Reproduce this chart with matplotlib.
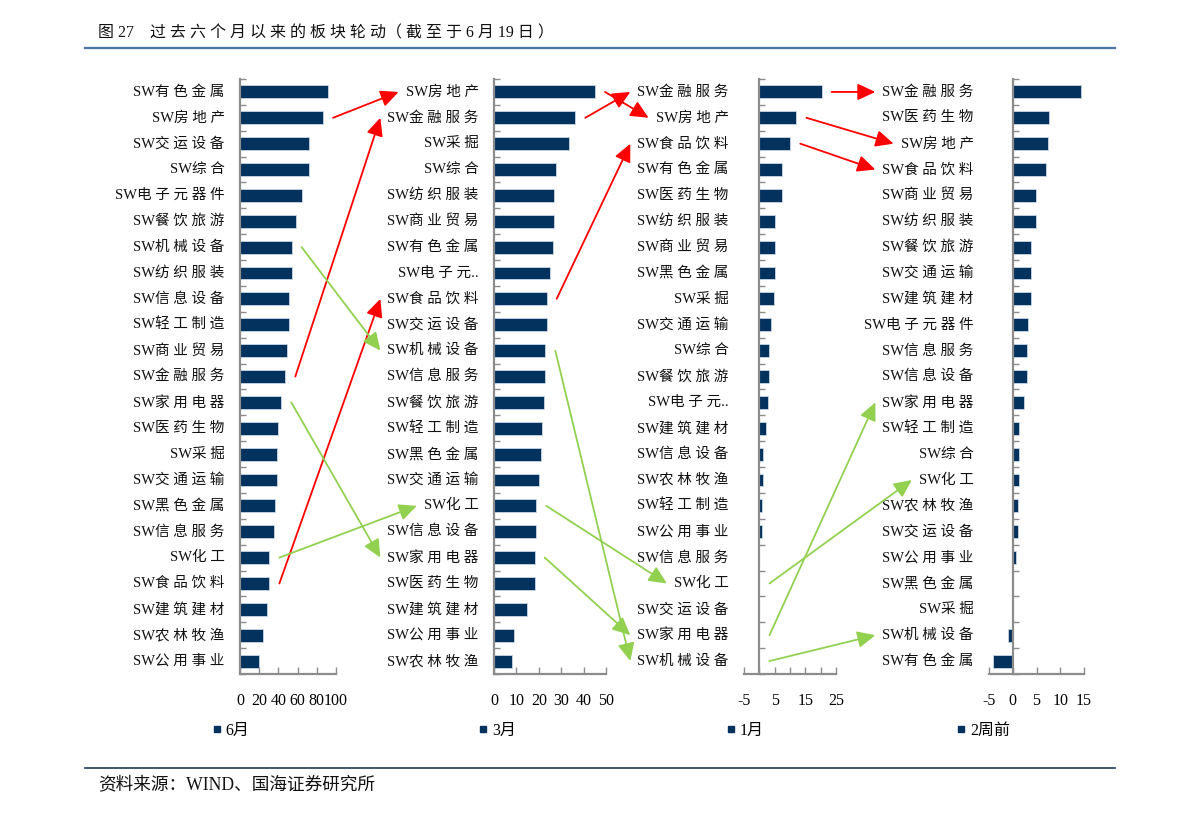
import numpy as np
import matplotlib
matplotlib.use("Agg")
import matplotlib.pyplot as plt
from matplotlib.lines import Line2D
from matplotlib.patches import FancyArrowPatch

plt.rcParams['font.family'] = ['Liberation Serif', 'Noto Sans CJK SC']
plt.rcParams['axes.unicode_minus'] = False

# ---- data ----
cats_6m = ['SW有色金属', 'SW房地产', 'SW交运设备', 'SW综合', 'SW电子元器件', 'SW餐饮旅游',
           'SW机械设备', 'SW纺织服装', 'SW信息设备', 'SW轻工制造', 'SW商业贸易', 'SW金融服务',
           'SW家用电器', 'SW医药生物', 'SW采掘', 'SW交通运输', 'SW黑色金属', 'SW信息服务',
           'SW化工', 'SW食品饮料', 'SW建筑建材', 'SW农林牧渔', 'SW公用事业']
vals_6m = [91.3, 86.5, 72.2, 72.2, 64.6, 58.7, 53.8, 53.8, 50.7, 50.7, 49.0, 47.2,
           43.0, 40.0, 38.2, 38.2, 36.5, 35.1, 30.6, 30.6, 28.5, 24.3, 19.4]

cats_3m = ['SW房地产', 'SW金融服务', 'SW采掘', 'SW综合', 'SW纺织服装', 'SW商业贸易',
           'SW有色金属', 'SW电子元..', 'SW食品饮料', 'SW交运设备', 'SW机械设备', 'SW信息服务',
           'SW餐饮旅游', 'SW轻工制造', 'SW黑色金属', 'SW交通运输', 'SW化工', 'SW信息设备',
           'SW家用电器', 'SW医药生物', 'SW建筑建材', 'SW公用事业', 'SW农林牧渔']
vals_3m = [45.1, 36.3, 33.6, 27.5, 26.9, 26.9, 26.2, 24.9, 23.5, 23.5, 22.9, 22.9,
           22.2, 21.6, 20.8, 20.2, 18.9, 18.9, 18.2, 18.2, 14.9, 8.8, 8.2]

cats_1m = ['SW金融服务', 'SW房地产', 'SW食品饮料', 'SW有色金属', 'SW医药生物', 'SW纺织服装',
           'SW商业贸易', 'SW黑色金属', 'SW采掘', 'SW交通运输', 'SW综合', 'SW餐饮旅游',
           'SW电子元..', 'SW建筑建材', 'SW信息设备', 'SW农林牧渔', 'SW轻工制造', 'SW公用事业',
           'SW信息服务', 'SW化工', 'SW交运设备', 'SW家用电器', 'SW机械设备']
vals_1m = [20.3, 12.1, 10.1, 7.3, 7.3, 5.2, 5.2, 5.2, 4.7, 3.7, 3.3, 3.3,
           2.7, 2.2, 1.3, 1.3, 0.8, 0.8, 0.05, 0.05, 0.05, 0.05, -0.4]

cats_2w = ['SW金融服务', 'SW医药生物', 'SW房地产', 'SW食品饮料', 'SW商业贸易', 'SW纺织服装',
           'SW餐饮旅游', 'SW交通运输', 'SW建筑建材', 'SW电子元器件', 'SW信息服务', 'SW信息设备',
           'SW家用电器', 'SW轻工制造', 'SW综合', 'SW化工', 'SW农林牧渔', 'SW交运设备',
           'SW公用事业', 'SW黑色金属', 'SW采掘', 'SW机械设备', 'SW有色金属']
vals_2w = [14.4, 7.7, 7.4, 7.0, 4.9, 4.9, 3.9, 3.9, 3.9, 3.2, 3.0, 3.0,
           2.3, 1.3, 1.3, 1.3, 1.0, 1.0, 0.6, 0.0, 0.0, -1.1, -4.2]

series_names = ['6月', '3月', '1月', '2周前']

# sectors followed by arrows from one period to the next
arrow_up = ['SW房地产', 'SW金融服务', 'SW食品饮料']
arrow_down = ['SW机械设备', 'SW家用电器', 'SW化工']

bar_color = '#04325F'
axis_gray = '#8C8C8C'
W, H = 1191, 814


def spaced(s):
    # the source draws the CJK characters with a small gap between them
    out = ''
    for i, ch in enumerate(s):
        if i > 0 and ord(ch) > 127 and ord(s[i - 1]) > 127:
            out += ' '
        out += ch
    return out


panels = [
    dict(cats=cats_6m, vals=vals_6m, left=240, right=336, xlim=(0, 100),
         major=[0, 20, 40, 60, 80, 100], minor=[], leg_x=213),
    dict(cats=cats_3m, vals=vals_3m, left=494, right=606, xlim=(0, 50),
         major=[0, 10, 20, 30, 40, 50], minor=[], leg_x=479),
    dict(cats=cats_1m, vals=vals_1m, left=744, right=836, xlim=(-5, 25),
         major=[-5, 5, 15, 25], minor=[0, 10, 20], leg_x=727),
    dict(cats=cats_2w, vals=vals_2w, left=989, right=1084, xlim=(-5, 15),
         major=[-5, 0, 5, 10, 15], minor=[], leg_x=957),
]

fig = plt.figure(figsize=(W / 100, H / 100), dpi=100)

axes = []
label_texts = []
for p, name in zip(panels, series_names):
    ax = fig.add_axes([p['left'] / W, 140 / H, (p['right'] - p['left']) / W, 595 / H])
    ax.set_facecolor('none')
    n = len(p['cats'])
    ax.barh(np.arange(n), p['vals'], height=0.5, color=bar_color,
            edgecolor='#C9D6E6', linewidth=0.6, label=name)
    ax.set_ylim(n - 0.5, -0.5)
    ax.set_xlim(*p['xlim'])
    for s in ['top', 'right']:
        ax.spines[s].set_visible(False)
    ax.spines['left'].set_position(('data', 0))
    ax.spines['left'].set_color(axis_gray)
    ax.spines['left'].set_linewidth(1.6)
    ax.spines['bottom'].set_color(axis_gray)
    ax.spines['bottom'].set_linewidth(1.6)
    ax.set_yticks(np.arange(n + 1) - 0.5)
    ax.set_yticklabels([])
    ax.tick_params(axis='y', direction='in', length=4, color=axis_gray, width=1)
    ax.set_xticks(p['major'])
    ax.set_xticks(p['minor'], minor=True)
    ax.tick_params(axis='x', which='both', direction='in', length=5, color=axis_gray,
                   width=1, pad=14, labelsize=11.5)
    texts = {}
    for i, c in enumerate(p['cats']):
        t = ax.annotate(spaced(c), xy=(0, i), xycoords=('axes fraction', 'data'),
                        xytext=(-11, 0), textcoords='offset points',
                        ha='right', va='center', fontsize=10.5, color='#111111')
        texts[c] = t
    label_texts.append(texts)
    axes.append(ax)

    handle = Line2D([], [], marker='s', ls='', color=bar_color, markersize=4)
    ax.legend([handle], [name], loc='center left', frameon=False,
              bbox_to_anchor=(p['leg_x'] / W, 1 - 731 / H), bbox_transform=fig.transFigure,
              handlelength=0.5, handletextpad=0.3, borderpad=0, borderaxespad=0,
              prop={'size': 11.5})

# rotation arrows between neighbouring periods
fig.canvas.draw()
renderer = fig.canvas.get_renderer()
for k in range(len(panels) - 1):
    src, dst = panels[k], panels[k + 1]
    ax_s, ax_d = axes[k], axes[k + 1]
    for cats, color in [(arrow_up, '#FF0000'), (arrow_down, '#92D050')]:
        for c in cats:
            i = src['cats'].index(c)
            j = dst['cats'].index(c)
            x0, y0 = ax_s.transData.transform((max(src['vals'][i], 0), i))
            x0 += 10
            bb = label_texts[k + 1][c].get_window_extent(renderer)
            x1 = bb.x0 - 7
            y1 = ax_d.transData.transform((0, j))[1]
            arr = FancyArrowPatch((x0 / W, y0 / H), (x1 / W, y1 / H),
                                  transform=fig.transFigure,
                                  arrowstyle='-|>,head_length=0.6,head_width=0.28',
                                  mutation_scale=18, color=color, lw=1.3,
                                  shrinkA=0, shrinkB=0)
            fig.add_artist(arr)

# heading, rules and source note
fig.text(98 / W, 1 - 33 / H, '图 27    ' + spaced('过去六个月以来的板块轮动') + '（ 截 至 于 6 月 19 日 ）',
         fontsize=11.5, va='center', color='#111111')
fig.add_artist(Line2D([85 / W, 1115 / W], [1 - 48 / H] * 2, transform=fig.transFigure,
                      color='#4A76A8', lw=1.6))
fig.add_artist(Line2D([85 / W, 1115 / W], [1 - 768 / H] * 2, transform=fig.transFigure,
                      color='#1F3A5F', lw=1.2))
fig.text(98 / W, 1 - 785 / H, '资料来源：WIND、国海证券研究所', fontsize=12.7,
         va='center', color='#111111')

fig.savefig('out.png', dpi=100)
